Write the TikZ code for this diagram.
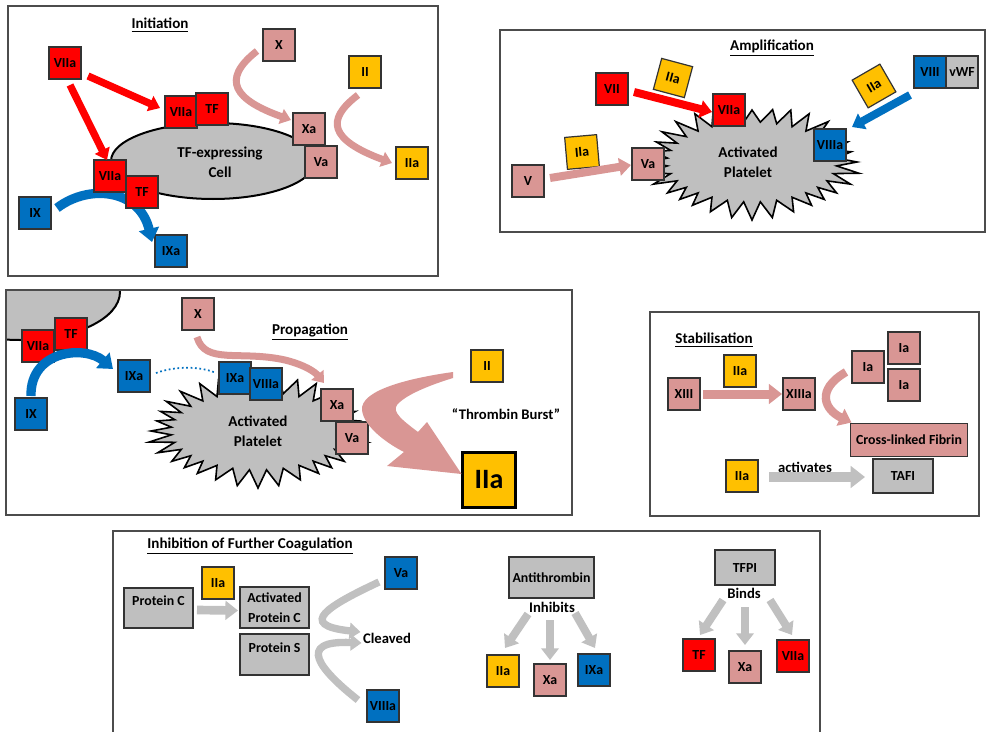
\documentclass[tikz,border=0pt]{standalone}
\usepackage{fontspec}
\setmainfont{Carlito}
\usetikzlibrary{arrows.meta,calc,shapes.geometric}
\definecolor{cRed}{HTML}{FF0000}
\definecolor{cBlue}{HTML}{0070C0}
\definecolor{cYel}{HTML}{FFC000}
\definecolor{cPink}{HTML}{D99694}
\definecolor{cGray}{HTML}{BFBFBF}
\definecolor{cArr}{HTML}{C0C0C0}
\newcommand\fnt{\fontsize{10.4}{15}\selectfont\bfseries}
\newcommand\fntM{\fontsize{11}{15}\selectfont\bfseries}
\newcommand\fntL{\fontsize{11.3}{15}\selectfont\bfseries}
\newcommand\mkburst[4]{\draw[burst] plot[samples=65,domain=0:360,variable=\t]
 ({#1+(#3-20*mod(round(\t/5.625),2)+4*(1-mod(round(\t/5.625),2))*sin(7*\t))*cos(\t)},
  {#2+(#4-15*mod(round(\t/5.625),2)+3*(1-mod(round(\t/5.625),2))*sin(5*\t))*sin(\t)}) -- cycle;}
\begin{document}
\begin{tikzpicture}[x=0.75pt,y=-0.75pt,
  every node/.style={font=\fnt, inner sep=1pt},
  fbox/.style={draw=black!80, line width=0.9pt, minimum width=24pt, minimum height=24pt, inner sep=0pt, outer sep=0pt},
  rbox/.style={fbox, fill=cRed},
  bbox/.style={fbox, fill=cBlue},
  ybox/.style={fbox, fill=cYel},
  pbox/.style={fbox, fill=cPink},
  gbox/.style={fbox, fill=cGray},
  ttl/.style={font=\fntL},
  lbl/.style={font=\fntM},
  panel/.style={draw=black!70, line width=1pt},
  cell/.style={draw=black, line width=1.5pt, fill=cGray},
  burst/.style={draw=black, line width=1.2pt, fill=cGray, line join=miter},
  arr/.style={line width=#1, -{Triangle[length=1pt 1.3, width=1pt 2.0]}}
]
\useasboundingbox (0,0) rectangle (987,731);
\fill[white] (0,0) rectangle (987,731);

% ================= Initiation =================
\draw[panel] (8,6) rectangle (438,276);
\node[ttl] (tInit) at (160,25) {\underline{Initiation}};
\node[cell, ellipse, minimum width=153pt, minimum height=57pt] (cell) at (213,161) {};
\node[ttl, align=center] (cellTxt) at (220,162) {TF-expressing\\Cell};
\node[bbox] (iIX) at (35,213) {IX};
\node[bbox] (iIXa) at (171,251) {IXa};
\draw[arr=7pt, cBlue] ($(iIX.east)+(6,-5)$) .. controls (90,183) and (140,190) .. ($(iIXa.west)+(-3,-9)$);
\node[rbox] (iVIIa) at (65,63) {VIIa};
\node[rbox] (iVIIaB) at (181,112) {VIIa};
\node[rbox] (iTFB) at (212,109) {TF};
\node[rbox] (iVIIaC) at (110,176) {VIIa};
\node[rbox] (iTFC) at (142,192) {TF};
\node[pbox] (iX) at (279,45) {X};
\node[pbox] (iXa) at (309,129) {Xa};
\node[pbox] (iVa) at (321,162) {Va};
\node[ybox] (iII) at (365,72) {II};
\node[ybox] (iIIa) at (412,163) {IIa};
\draw[arr=5.5pt, cRed] ($(iVIIa.east)+(7,13)$) -- ($(iVIIaB.west)+(-5,-4)$);
\draw[arr=5.5pt, cRed] ($(iVIIa.south)+(5,6)$) -- ($(iVIIaC.north)+(-3,0)$);
\draw[arr=5.25pt, cPink] ($(iX.west)+(-6,6)$) .. controls (220,80) and (235,100) .. ($(iXa.west)+(-2,-9)$);
\draw[arr=5.25pt, cPink] ($(iII.south)+(-7,7)$) .. controls (325,120) and (330,140) .. ($(iIIa.west)+(-4,0)$);

% ================= Amplification =================
\draw[panel] (500,30) rectangle (985,232);
\node[ttl] (tAmp) at (772,48) {\underline{Amplification}};
\mkburst{752}{162}{105}{55}
\node[ttl, align=center] (aTxt) at (748,162) {Activated\\Platelet};
\node[rbox] (aVII) at (612,89) {VII};
\node[ybox, rotate=-15] (aIIa1) at (673,78) {IIa};
\node[rbox] (aVIIa) at (729,110) {VIIa};
\node[bbox] (aVIIIa) at (830,145) {VIIIa};
\node[bbox] (aVIII) at (930,72) {VIII};
\node[gbox] (avWF) at (962,72) {vWF};
\node[ybox, rotate=30] (aIIa2) at (874,86) {IIa};
\node[pbox] (aV) at (528,181) {V};
\node[ybox, rotate=5] (aIIa3) at (582,152) {IIa};
\node[pbox] (aVa) at (648,164) {Va};
\draw[arr=6pt, cRed] ($(aVII.east)+(6,3)$) -- ($(aVIIa.west)+(-1,2)$);
\draw[arr=6pt, cBlue] ($(aVIII.south west)+(-4,7)$) -- ($(aVIIIa.north east)+(6,-2)$);
\draw[arr=6pt, cPink] ($(aV.east)+(6,-3)$) -- ($(aVa.west)+(-1,1)$);

% ================= Propagation =================
\begin{scope}
\clip (6,290) rectangle (572,515);
\draw[cell] (20,292) ellipse [x radius=100, y radius=48];
\end{scope}
\draw[panel] (6,290) rectangle (572,515);
\node[ttl] (tProp) at (310,332) {\underline{Propagation}};
\mkburst{258}{431}{107}{54}
\node[ttl, align=center] (pTxt) at (258,431) {Activated\\Platelet};
\node[rbox] (pVIIa) at (38,346) {VIIa};
\node[rbox] (pTF) at (71,334) {TF};
\node[bbox] (pIX) at (31,414) {IX};
\node[bbox] (pIXa) at (134,376) {IXa};
\node[pbox] (pX) at (198,314) {X};
\node[bbox] (pIXa2) at (235,378) {IXa};
\node[bbox] (pVIIIa) at (266,384) {VIIIa};
\node[pbox] (pXa) at (337,405) {Xa};
\node[pbox] (pVa) at (352,438) {Va};
\node[ybox] (pII) at (487,366) {II};
\node[ybox, draw=black, line width=2pt, minimum width=39.75pt, minimum height=41.25pt,
      font=\fontsize{21}{21}\selectfont\bfseries] (pIIaBig) at (489,480) {IIa};
\node[lbl] (thb) at (506,414) {“Thrombin Burst”};
\draw[arr=7pt, cBlue] ($(pIX.north)+(0,-2)$) .. controls (30,350) and (85,345) .. ($(pIXa.west)+(-5,-7)$);
\draw[cBlue, line width=1.3pt, dotted] ($(pIXa.east)+(6,-3)$) .. controls (175,366) and (200,366) .. ($(pIXa2.west)+(-3,-5)$);
\draw[arr=5.25pt, cPink] ($(pX.south)+(-1,7)$) .. controls (205,365) and (240,350) .. (285,360)
   .. controls (305,365) and (315,372) .. ($(pXa.north west)+(3,-6)$);
\fill[cPink] ($(pII.west)+(-18,6)$) .. controls (410,378) and (360,390) .. (362,410)
   .. controls (364,428) and (390,445) .. (404,452) -- (387,466) -- ($(pIIaBig.west)+(-1,-6)$)
   -- (427,422) -- (418,432) .. controls (402,420) and (392,412) .. (397,405)
   .. controls (405,395) and (430,385) .. ($(pII.west)+(-18,12)$) -- cycle;

% ================= Stabilisation =================
\draw[panel] (650,312) rectangle (979,516);
\node[ttl] (tStab) at (714,340) {\underline{Stabilisation}};
\node[pbox] (sXIII) at (684,394) {XIII};
\node[ybox] (sIIa) at (740,371) {IIa};
\node[pbox] (sXIIIa) at (799,394) {XIIIa};
\node[pbox] (sIa1) at (868,367) {Ia};
\node[pbox] (sIa2) at (904,348) {Ia};
\node[pbox] (sIa3) at (904,385) {Ia};
\node[pbox, minimum width=87.75pt, minimum height=24.75pt] (sCross) at (909,440) {Cross-linked Fibrin};
\node[ybox] (sIIb) at (742,476) {IIa};
\node[lbl] (sAct) at (805,467) {activates};
\node[gbox, minimum width=45pt, minimum height=25.5pt] (sTAFI) at (903,476) {TAFI};
\draw[arr=6.75pt, cPink] ($(sXIII.east)+(3,0)$) -- ($(sXIIIa.west)+(-1,0)$);
\draw[arr=6.25pt, cPink] ($(sIa1.west)+(-6,5)$) .. controls (815,390) and (825,410) .. ($(sCross.north west)+(1,-1)$);
\draw[arr=7.5pt, cArr] ($(sIIb.east)+(11,1)$) -- ($(sTAFI.west)+(-8,1)$);

% ================= Inhibition =================
\draw[panel] (113,531) rectangle (820,745);
\node[ttl] (tInh) at (250,546) {\underline{Inhibition of Further Coagulation}};
\node[gbox, minimum width=51.75pt, minimum height=30pt] (nPC) at (158.5,608) {};
\node (nPCt) at ($(nPC.north)+(0,13)$) {Protein C};
\node[ybox] (nIIa) at (218,583) {IIa};
\node[gbox, minimum width=51.75pt, minimum height=30.75pt, align=center] (nAPC) at (274.5,607.5) {Activated\\Protein C};
\node[gbox, minimum width=51.75pt, minimum height=30.75pt] (nPS) at (274.5,654.5) {};
\node (nPSt) at ($(nPS.north)+(0,14)$) {Protein S};
\node[bbox] (nVa) at (401,573) {Va};
\node[bbox] (nVIIIa) at (383,706) {VIIIa};
\node[lbl] (nCl) at (387,638) {Cleaved};
\draw[arr=6.5pt, cArr] ($(nPC.east)+(4,2)$) -- ($(nAPC.west)+(-2,3)$);
\draw[arr=5.5pt, cArr] ($(nVa.west)+(-6,9)$) .. controls (330,605) and (295,625) .. ($(nCl.west)+(-1,-6)$);
\draw[arr=5.5pt, cArr] ($(nVIIIa.west)+(-9,-6)$) .. controls (320,670) and (295,640) .. ($(nCl.west)+(0,5)$);

\node[gbox, minimum width=63.75pt, minimum height=30.75pt] (nAT) at (551.5,577.5) {Antithrombin};
\node[lbl] (nInh) at (552,607) {Inhibits};
\node[ybox] (nIIa2) at (503,671) {IIa};
\node[pbox] (nXa) at (550,680) {Xa};
\node[bbox] (nIXa) at (594,670) {IXa};
\draw[arr=6pt, cArr] ($(nInh.center)+(-24,7)$) -- ($(nIIa2.north)+(2,-7)$);
\draw[arr=6pt, cArr] ($(nInh.center)+(-2,13)$) -- ($(nXa.north)+(0,-4)$);
\draw[arr=6pt, cArr] ($(nInh.center)+(23,6)$) -- ($(nIXa.north)+(1,-6)$);

\node[gbox, minimum width=45pt, minimum height=26.25pt] (nTFPI) at (745,567.5) {TFPI};
\node[lbl] (nBinds) at (744,593) {Binds};
\node[rbox] (nTF) at (699,655) {TF};
\node[pbox] (nXa2) at (745,667) {Xa};
\node[rbox] (nVIIa) at (793,656) {VIIa};
\draw[arr=6pt, cArr] ($(nBinds.center)+(-21,7)$) -- ($(nTF.north)+(1,-4)$);
\draw[arr=6pt, cArr] ($(nBinds.center)+(1,14)$) -- ($(nXa2.north)+(0,-6)$);
\draw[arr=6pt, cArr] ($(nBinds.center)+(26,7)$) -- ($(nVIIa.north)+(-1,-5)$);
\end{tikzpicture}
\end{document}
